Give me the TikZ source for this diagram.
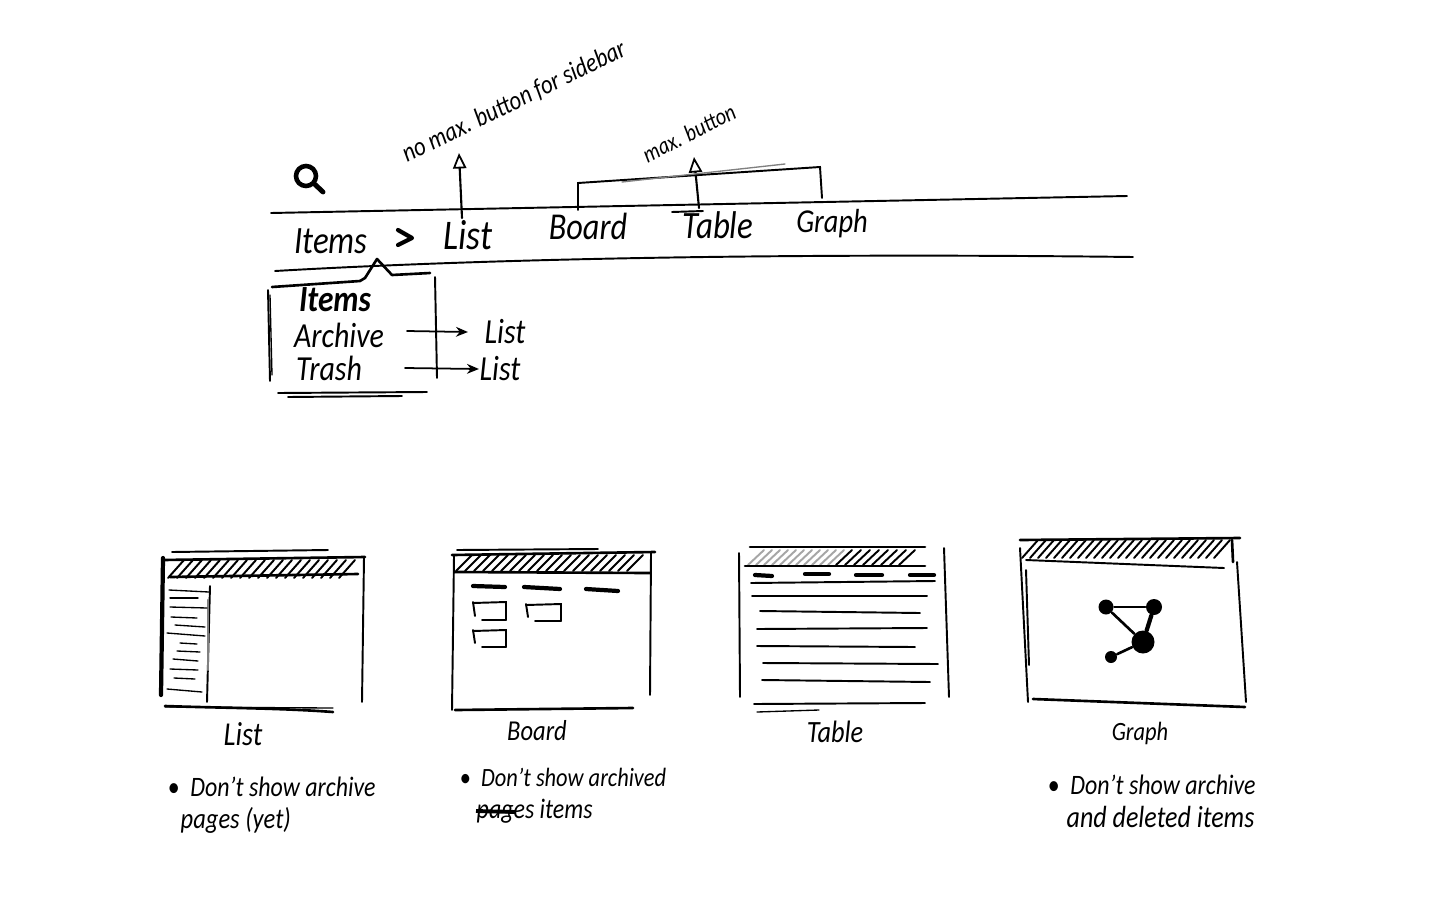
\documentclass[tikz,border=0pt]{standalone}
\usepackage{fontspec}
\setmainfont[FakeStretch=0.85]{Carlito}
\usetikzlibrary{arrows.meta}
\tikzset{
  hand/.style={font=\fontsize{#1}{#1}\selectfont\itshape, inner sep=0pt, text=black},
  skt/.style={line width=.38pt, line cap=round, black},
  sk/.style={line width=.55pt, line cap=round, black},
  skm/.style={line width=.75pt, line cap=round, black},
  skb/.style={line width=1.2pt, line cap=round, black},
  hatchline/.style={line width=.55pt, line cap=round},
  openarrow/.style={line width=.6pt, line cap=round, -{Triangle[open, length=4.4pt, width=3.8pt, line width=.5pt]}},
  solidarrow/.style={line width=.5pt, line cap=round, -{Stealth[length=3.4pt, width=2.8pt]}},
  graphdot/.style={circle, fill=black, inner sep=0pt, minimum size=#1},
}
\newcommand{\hatchband}[6]{% x0,x1,ybottom,ytop,step,colour
  \foreach \hx in {#1,\the\numexpr#1+#5\relax,...,#2}
    \draw[hatchline,#6] (\hx,#3) -- ({\hx+16},#4);
}
\begin{document}
\begin{tikzpicture}[x=0.01cm,y=-0.01cm]
\useasboundingbox (0,0) rectangle (1440,900);
\fill[white] (0,0) rectangle (1440,900);

% ---- top bar
\draw[sk] (271,213) -- (1127,196);
\draw[sk] (275,271) .. controls (500,258) and (800,253) .. (1133,257);

% search icon
\node[draw, circle, line width=1.3pt, minimum size=0.2cm, inner sep=0pt] (lens) at (306,176) {};
\coordinate (lensend) at (323,192);
\draw[line width=1.4pt, line cap=round] (lens) -- (lensend);

% labels of the bar
\node[hand=11] (items) at (331,241) {Items};
\coordinate (ch1) at (398,230); \coordinate (ch2) at (412,238); \coordinate (ch3) at (398,245);
\draw[line width=1.2pt, line cap=round, line join=round] (ch1) -- (ch2) -- (ch3);
\node[hand=12] (listtab) at (468,235) {List};
\node[hand=10.8] (boardtab) at (588,226) {Board};
\node[hand=11] (tabletab) at (718,225) {Table};
\node[hand=9.5] (graphtab) at (832,224) {Graph};
\coordinate (tbar1) at (672,212); \coordinate (tbar2) at (703,211);
\draw[sk] (tbar1) -- (tbar2);

% annotations
\node[hand=7.6, rotate=26] (nomax) at (514,102) {no max. button for sidebar};
\node[hand=6.8, rotate=27] (maxb) at (689,133) {max. button};
\coordinate (liststart) at (462,218); \coordinate (listtip) at (459,153);
\draw[openarrow] (liststart) -- (listtip);
\coordinate (tablestart) at (699,208); \coordinate (tabletip) at (694,157);
\draw[openarrow] (tablestart) -- (tabletip);
\coordinate (b1) at (578,210); \coordinate (b2) at (578,183); \coordinate (b3) at (820,167); \coordinate (b4) at (822,198);
\draw[sk] (b1) -- (b2) -- (b3) -- (b4);
\draw[skm] (578,184) -- (578,209);
\draw[skt, gray] (622,182) -- (785,164);

% ---- menu
\coordinate (m1) at (272,287); \coordinate (m2) at (365,278); \coordinate (m3) at (377,259);
\coordinate (m4) at (392,275); \coordinate (m5) at (430,273);
\draw[skm, line join=round] (m1) -- (360,281) -- (m2) -- (m3) -- (m4) -- (m5);
\draw[sk] (268,290) -- (270,381);
\draw[skt] (270,295) -- (272,375);
\draw[sk] (435,277) -- (437,378);
\draw[sk] (278,393) -- (427,392);
\draw[sk] (288,397) -- (402,396);
\node[hand=10.5, font=\fontsize{10.5}{10.5}\selectfont\bfseries\itshape] (mitems) at (335,300) {Items};
\node[hand=10] (marchive) at (339,335) {Archive};
\node[hand=10] (mtrash) at (329,368) {Trash};
\node[hand=10] (mlist1) at (505,332) {List};
\node[hand=10] (mlist2) at (500,369) {List};
\coordinate (a1s) at (407,331); \coordinate (a2s) at (405,368);
\draw[solidarrow] (a1s) -- ([xshift=-0.16cm]mlist1.west);
\draw[solidarrow] (a2s) -- (mlist2.west);

% ---- List frame
\hatchband{168}{344}{578}{560}{9}{black}
\draw[sk] (172,552) -- (328,550);
\draw[skm] (163,560) -- (365,557);
\draw[skb] (163,558) -- (161,695);
\draw[sk] (364,557) -- (362,702);
\draw[skm] (165,706) .. controls (220,708) and (280,708) .. (333,712);
\draw[skt] (165,707) -- (333,708);
\draw[skm] (170,577) -- (358,574);
\draw[sk] (210,586) -- (207,702);
\draw[skm,gray] (208,600) -- (208,670);
\foreach \xa/\ya/\xb/\yb in {169/590/209/592,170/598/198/598,170/607/207/608,171/617/197/618,175/625/205/627,167/633/205/636,180/643/197/644,177/651/200/652,173/659/198/661,170/669/198/670,174/678/195/679,167/689/202/692}
  \draw[skt] (\xa,\ya) -- (\xb,\yb);
\node[hand=9.5] (flist) at (243,734) {List};
\node[hand=8, anchor=west] (nlist1) at (167,787) {\textbullet\ \ Don't show archive};
\node[hand=8.2, anchor=west] (nlist2) at (180,820) {pages (yet)};

% ---- Board frame
\hatchband{456}{632}{571}{555}{9}{black}
\draw[sk] (457,550) -- (598,549);
\draw[skm] (452,555) -- (655,552);
\draw[sk] (454,556) -- (452,710);
\draw[sk] (651,553) -- (650,695);
\draw[skm] (455,710) -- (633,708);
\draw[skm] (455,572) -- (650,573);
\draw[skb] (473,586) -- (505,587);
\draw[skb] (524,587) -- (560,589);
\draw[skb] (586,589) -- (618,591);
\foreach \cx/\cy/\cw/\ch in {473/602/33/18,526/604/35/17,473/630/33/17}{
  \draw[sk] (\cx,\cy+1) -- ({\cx+\cw},\cy) -- ({\cx+\cw},{\cy+\ch});
  \draw[sk] (\cx,\cy) -- ({\cx+2},{\cy+\ch-4});
  \draw[sk] ({\cx+9},{\cy+\ch}) -- ({\cx+\cw},{\cy+\ch});
}
\node[hand=8.2] (fboard) at (537,731) {Board};
\node[hand=7.5, anchor=west] (nboard1) at (459,777) {\textbullet\ \ Don't show archived};
\node[hand=8, anchor=west] (nboard2) at (476,811) {pages items};
\coordinate (s1) at (476,811); \coordinate (s2) at (516,812);
\draw[line width=1.1pt] (s1) -- (s2);

% ---- Table frame
\hatchband{748}{830}{565}{550}{8}{gray!70}
\hatchband{836}{905}{565}{550}{9}{black}
\draw[skm] (750,547) -- (925,547);
\draw[sk] (739,553) -- (740,697);
\draw[sk] (944,548) -- (949,697);
\draw[skm] (745,566) -- (925,566);
\draw[skb] (755,575) -- (772,576);
\draw[skb] (805,574) -- (829,574);
\draw[skb] (856,575) -- (882,575);
\draw[skb] (910,575) -- (934,575);
\draw[sk] (751,583) -- (935,581);
\foreach \xa/\ya/\xb/\yb in {752/596/927/596,760/611/920/613,757/629/927/628,757/646/915/647,763/663/938/664,762/680/930/682,754/704/925/703}
  \draw[sk] (\xa,\ya) -- (\xb,\yb);
\draw[skt] (757,712) -- (819,710);
\node[hand=8.8] (ftable) at (835,732) {Table};

% ---- Graph frame
\hatchband{1022}{1215}{558}{540}{8}{black}
\draw[skm] (1020,540) -- (1240,538);
\draw[sk] (1020,548) -- (1028,702);
\draw[sk] (1026,570) -- (1029,665);
\draw[sk] (1237,562) -- (1246,702);
\draw[skm] (1033,699) -- (1245,707);
\draw[sk] (1026,560) -- (1224,568);
\draw[skm] (1232,540) -- (1233,562);
\node[graphdot=0.15cm] (ga) at (1106,607) {};
\node[graphdot=0.16cm] (gb) at (1154,607) {};
\node[graphdot=0.23cm] (gc) at (1143,642) {};
\node[graphdot=0.12cm] (gd) at (1111,657) {};
\draw[sk] (ga) -- (gb);
\draw[skm] (ga) -- (gc);
\draw[skb] (gb) -- (gc);
\draw[skm] (gc) -- (gd);
\node[hand=7.5] (fgraph) at (1140,733) {Graph};
\node[hand=8, anchor=west] (ngraph1) at (1047,785) {\textbullet\ \ Don't show archive};
\node[hand=8.7, anchor=west] (ngraph2) at (1066,817) {and deleted items};
\end{tikzpicture}
\end{document}
